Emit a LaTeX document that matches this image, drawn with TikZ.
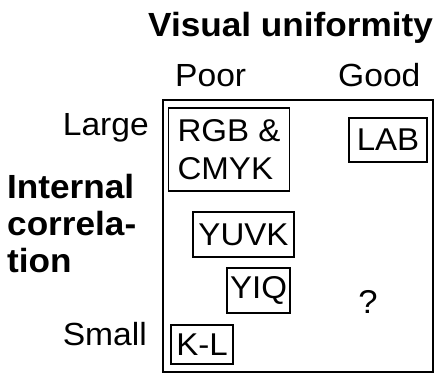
\documentclass[tikz,border=0pt]{standalone}
\usepackage{fontspec}
\setmainfont{Liberation Sans}[FakeStretch=1.05]
\begin{document}
\begin{tikzpicture}[x=1pt,y=-1pt,
  lbl/.style={inner sep=0pt,font=\fontsize{32}{38}\selectfont},
  ttl/.style={inner sep=0pt,font=\fontsize{33.5}{38}\selectfont\bfseries},
  cbox/.style={draw,line width=1.4pt,inner sep=0pt,align=left,
    font=\fontsize{31.5}{38}\selectfont}]
  \useasboundingbox (0,0) rectangle (435,373);
  % axis titles
  \node[ttl,anchor=base west] (vu) at (148,36) {Visual uniformity};
  \node[lbl,anchor=base west] (poor) at (175,86) {Poor};
  \node[lbl,anchor=base west] (good) at (338,86) {Good};
  \node[lbl,anchor=base east] (large) at (149,135) {Large};
  \node[lbl,anchor=base east] (small) at (147,345) {Small};
  \node[ttl,anchor=base west] (ic1) at (7,198) {Internal};
  \node[ttl,anchor=base west] (ic2) at (7,235) {correla-};
  \node[ttl,anchor=base west] (ic3) at (7,272) {tion};
  % chart frame
  \draw[line width=1.8pt] (163,100) rectangle (433,372);
  % colour spaces
  \node[cbox,minimum width=121pt,minimum height=83pt] (rgb) at (229,149.5) {RGB \&\\CMYK};
  \node[cbox,minimum width=78pt,minimum height=44pt] (lab) at (388,140) {LAB};
  \node[cbox,minimum width=101pt,minimum height=45pt] (yuvk) at (243.5,234.5) {YUVK};
  \node[cbox,minimum width=63pt,minimum height=45pt] (yiq) at (258.5,290.5) {YIQ};
  \node[cbox,minimum width=62pt,minimum height=39pt] (kl) at (202,344.5) {K-L};
  \node[lbl,anchor=base,font=\fontsize{33}{38}\selectfont] (q) at (368,313) {?};
\end{tikzpicture}
\end{document}
